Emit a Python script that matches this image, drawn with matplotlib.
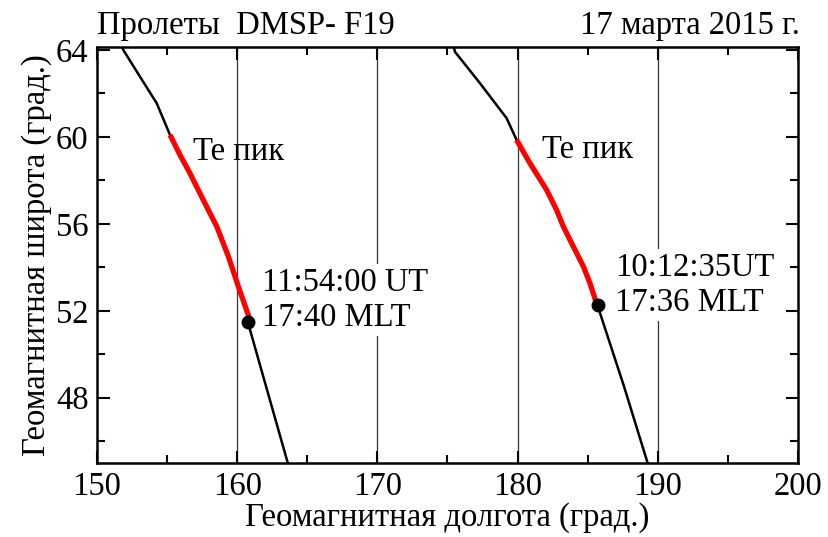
import matplotlib
matplotlib.use("Agg")
import matplotlib.pyplot as plt
from matplotlib.ticker import MultipleLocator

plt.rcParams['font.family'] = ['Liberation Serif', 'DejaVu Serif']
plt.rcParams['font.size'] = 23.5

# pass 1 (11:54 UT) - geomagnetic longitude / latitude
p1_top_lon = [151.7, 151.88, 153.07, 154.26, 155.21]
p1_top_lat = [64.3, 64.0, 62.77, 61.55, 60.09]
p1_peak_lon = [155.21, 155.92, 156.63, 157.58, 158.54, 159.37, 160.08, 160.9]
p1_peak_lat = [60.09, 59.17, 58.33, 57.10, 55.88, 54.50, 53.12, 51.6]
p1_low_lon = [160.75, 162.2, 163.65]
p1_low_lat = [51.5, 48.2, 44.9]
p1_dot = (160.75, 51.5)

# pass 2 (10:12 UT)
p2_top_lon = [175.4, 175.53, 177.32, 179.22, 179.93]
p2_top_lat = [64.3, 63.92, 62.47, 60.86, 59.86]
p2_peak_lon = [179.93, 180.88, 182.07, 182.78, 183.26, 183.97, 184.69, 185.16, 185.75]
p2_peak_lat = [59.86, 58.79, 57.56, 56.64, 55.88, 54.96, 54.04, 53.27, 52.1]
p2_low_lon = [185.7, 187.6, 189.32]
p2_low_lat = [52.25, 48.5, 44.9]
p2_dot = (185.7, 52.25)

grid_lon = [160, 170, 180, 190]

labels_time = ["11:54:00 UT\n17:40 MLT", "10:12:35UT\n17:36 MLT"]
labels_pos = [(161.77, 51.31), (186.95, 52.0)]
peak_pos = [(156.85, 59.31), (181.74, 59.4)]

fig = plt.figure(figsize=(8.29, 5.37), dpi=100)
ax = fig.add_axes([0.117, 0.138, 0.8456, 0.7745])

for g in grid_lon:
    ax.axvline(g, color='#333333', lw=0.9, zorder=1)

for lon, lat in [(p1_top_lon, p1_top_lat), (p1_low_lon, p1_low_lat),
                 (p2_top_lon, p2_top_lat), (p2_low_lon, p2_low_lat)]:
    ax.plot(lon, lat, color='black', lw=1.8, zorder=4)
for lon, lat in [(p1_peak_lon, p1_peak_lat), (p2_peak_lon, p2_peak_lat)]:
    ax.plot(lon, lat, color='#ff0000', lw=3.8, zorder=5,
            solid_capstyle='butt', solid_joinstyle='round')
for d in [p1_dot, p2_dot]:
    ax.plot(d[0], d[1], 'o', color='black', ms=9, zorder=6)

for (x, y) in peak_pos:
    ax.text(x, y, "Te пик", ha='left', va='center', zorder=3)
# va='baseline' on two-line text sits on the lower line
for s, (x, y) in zip(labels_time, labels_pos):
    ax.text(x, y, s, ha='left', va='baseline', zorder=3,
            bbox=dict(facecolor='white', edgecolor='none', pad=2))

ax.set_xlim(150, 200)
ax.set_ylim(45, 64.14)
ax.xaxis.set_major_locator(MultipleLocator(10))
ax.xaxis.set_minor_locator(MultipleLocator(5))
ax.set_yticks([48, 52, 56, 60, 64])
ax.yaxis.set_minor_locator(MultipleLocator(2))
ax.tick_params(which='both', direction='in', top=True, right=True, width=1.5)
ax.tick_params(which='major', length=9, pad=6)
ax.tick_params(which='minor', length=5.5)
for sp in ax.spines.values():
    sp.set_linewidth(1.8)

ax.set_xlabel("Геомагнитная долгота (град.)", labelpad=0)
ax.set_ylabel("Геомагнитная широта (град.)", labelpad=3)

fig.text(97 / 829, 1 - 34 / 537, "Пролеты  DMSP- F19", ha='left', va='baseline')
fig.text(800 / 829, 1 - 34 / 537, "17 марта 2015 г.", ha='right', va='baseline')

fig.savefig("out.png", dpi=100)
